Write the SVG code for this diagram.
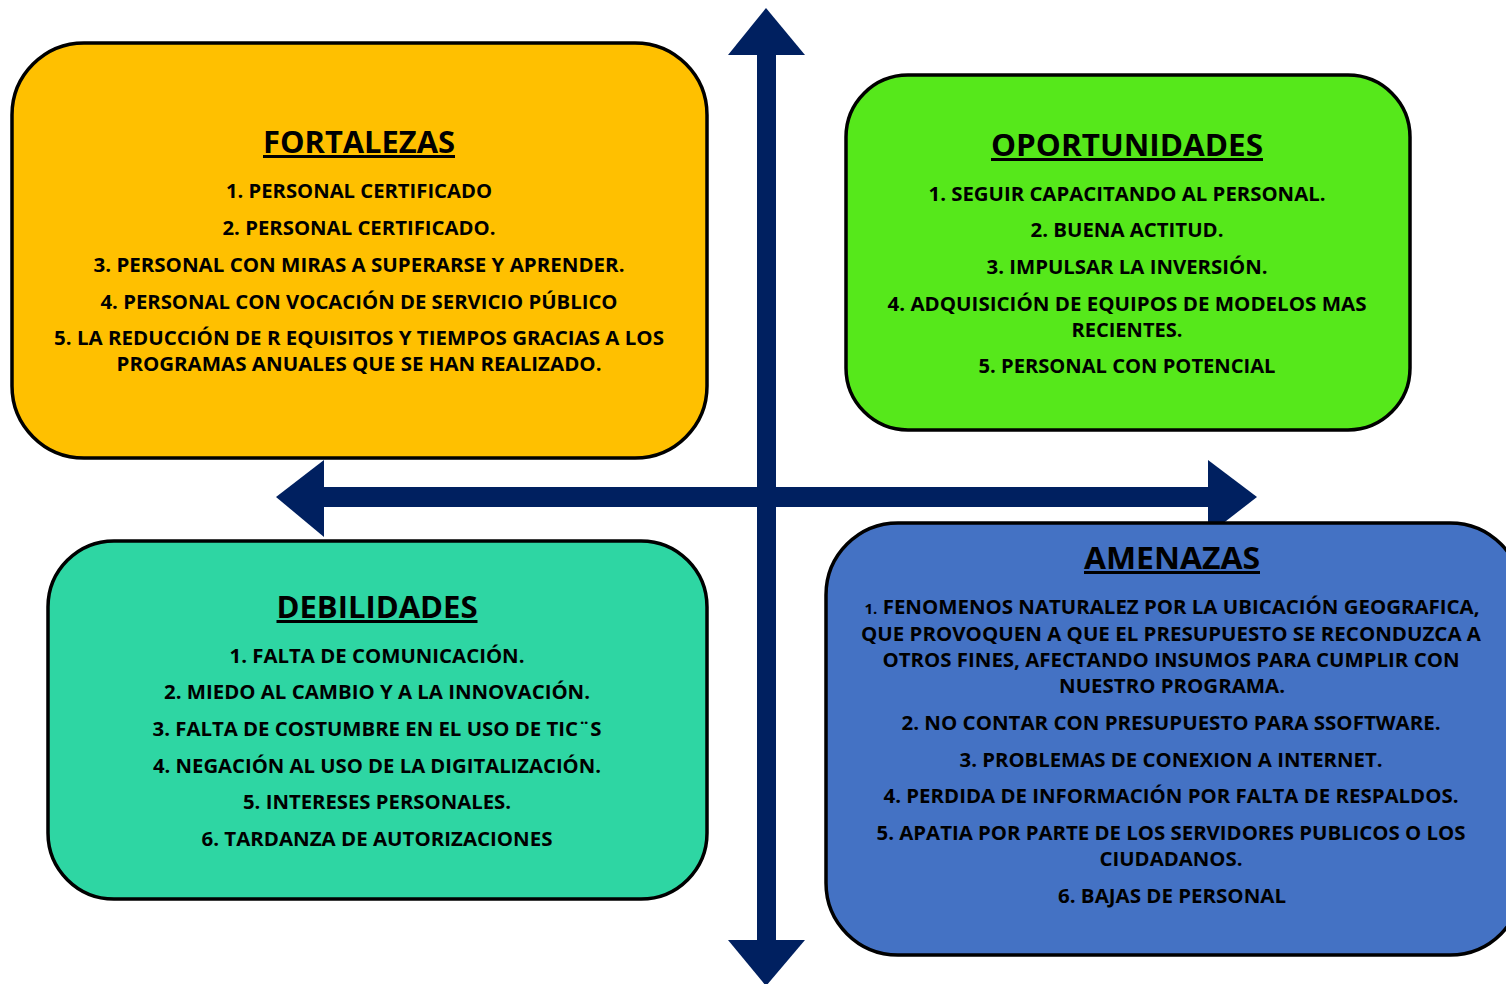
<svg xmlns="http://www.w3.org/2000/svg" width="1506" height="984" viewBox="0 0 1506 984">
<style>
.box{stroke:#000;stroke-width:3.5}
.t{font-family:"Open Sans","Liberation Sans",sans-serif;font-weight:bold;font-size:19px;fill:#000;text-anchor:middle}
.h{font-family:"Open Sans","Liberation Sans",sans-serif;font-weight:bold;font-size:30px;fill:#000;text-anchor:middle;text-decoration:underline}
.ar{fill:#002060}
</style>
<rect width="1506" height="984" fill="#fff"/>
<g id="connectors">
<rect class="ar" x="757" y="50" width="19" height="895"/>
<polygon class="ar" points="766,8 805,55 728,55"/>
<polygon class="ar" points="766,986 805,940 728,940"/>
<rect class="ar" x="318" y="487" width="895" height="20"/>
<polygon class="ar" points="276,497 324,460 324,537"/>
<polygon class="ar" points="1257,497 1208,460 1208,535"/>
</g>
<g id="fortalezas">
<rect class="box" x="12" y="43" width="695" height="415" rx="72" fill="#FFC000"/>
<text class="h" x="359" y="153" textLength="192" lengthAdjust="spacingAndGlyphs">FORTALEZAS</text>
<text class="t" x="359" y="198" textLength="266" lengthAdjust="spacingAndGlyphs">1. PERSONAL CERTIFICADO</text>
<text class="t" x="359" y="235" textLength="273" lengthAdjust="spacingAndGlyphs">2. PERSONAL CERTIFICADO.</text>
<text class="t" x="359" y="272" textLength="531" lengthAdjust="spacingAndGlyphs">3. PERSONAL CON MIRAS A SUPERARSE Y APRENDER.</text>
<text class="t" x="359" y="309" textLength="517" lengthAdjust="spacingAndGlyphs">4. PERSONAL CON VOCACIÓN DE SERVICIO PÚBLICO</text>
<text class="t" x="359" y="345" textLength="610" lengthAdjust="spacingAndGlyphs">5. LA REDUCCIÓN DE R EQUISITOS Y TIEMPOS GRACIAS A LOS</text>
<text class="t" x="359" y="371" textLength="485" lengthAdjust="spacingAndGlyphs">PROGRAMAS ANUALES QUE SE HAN REALIZADO.</text>
</g>
<g id="oportunidades">
<rect class="box" x="846" y="75" width="564" height="355" rx="62" fill="#56E81B"/>
<text class="h" x="1127" y="156" textLength="272" lengthAdjust="spacingAndGlyphs">OPORTUNIDADES</text>
<text class="t" x="1127" y="201" textLength="397" lengthAdjust="spacingAndGlyphs">1. SEGUIR CAPACITANDO AL PERSONAL.</text>
<text class="t" x="1127" y="237" textLength="193" lengthAdjust="spacingAndGlyphs">2. BUENA ACTITUD.</text>
<text class="t" x="1127" y="274" textLength="281" lengthAdjust="spacingAndGlyphs">3. IMPULSAR LA INVERSIÓN.</text>
<text class="t" x="1127" y="311" textLength="479" lengthAdjust="spacingAndGlyphs">4. ADQUISICIÓN DE EQUIPOS DE MODELOS MAS</text>
<text class="t" x="1127" y="337" textLength="111" lengthAdjust="spacingAndGlyphs">RECIENTES.</text>
<text class="t" x="1127" y="373" textLength="297" lengthAdjust="spacingAndGlyphs">5. PERSONAL CON POTENCIAL</text>
</g>
<g id="debilidades">
<rect class="box" x="48" y="541" width="659" height="358" rx="66" fill="#2ED6A3"/>
<text class="h" x="377" y="618" textLength="201" lengthAdjust="spacingAndGlyphs">DEBILIDADES</text>
<text class="t" x="377" y="663" textLength="295" lengthAdjust="spacingAndGlyphs">1. FALTA DE COMUNICACIÓN.</text>
<text class="t" x="377" y="699" textLength="426" lengthAdjust="spacingAndGlyphs">2. MIEDO AL CAMBIO Y A LA INNOVACIÓN.</text>
<text class="t" x="377" y="736" textLength="449" lengthAdjust="spacingAndGlyphs">3. FALTA DE COSTUMBRE EN EL USO DE TIC¨S</text>
<text class="t" x="377" y="773" textLength="448" lengthAdjust="spacingAndGlyphs">4. NEGACIÓN AL USO DE LA DIGITALIZACIÓN.</text>
<text class="t" x="377" y="809" textLength="268" lengthAdjust="spacingAndGlyphs">5. INTERESES PERSONALES.</text>
<text class="t" x="377" y="846" textLength="351" lengthAdjust="spacingAndGlyphs">6. TARDANZA DE AUTORIZACIONES</text>
</g>
<g id="amenazas">
<rect class="box" x="826" y="523" width="696" height="432" rx="72" fill="#4472C4"/>
<text class="h" x="1172" y="569" textLength="176" lengthAdjust="spacingAndGlyphs">AMENAZAS</text>
<text class="t" x="1172" y="614" textLength="615" lengthAdjust="spacingAndGlyphs"><tspan font-size="14">1.</tspan> FENOMENOS NATURALEZ POR LA UBICACIÓN GEOGRAFICA,</text>
<text class="t" x="1171" y="641" textLength="620" lengthAdjust="spacingAndGlyphs">QUE PROVOQUEN A QUE EL PRESUPUESTO SE RECONDUZCA A</text>
<text class="t" x="1171" y="667" textLength="577" lengthAdjust="spacingAndGlyphs">OTROS FINES, AFECTANDO INSUMOS PARA CUMPLIR CON</text>
<text class="t" x="1172" y="693" textLength="226" lengthAdjust="spacingAndGlyphs">NUESTRO PROGRAMA.</text>
<text class="t" x="1171" y="730" textLength="539" lengthAdjust="spacingAndGlyphs">2. NO CONTAR CON PRESUPUESTO PARA SSOFTWARE.</text>
<text class="t" x="1171" y="767" textLength="423" lengthAdjust="spacingAndGlyphs">3. PROBLEMAS DE CONEXION A INTERNET.</text>
<text class="t" x="1171" y="803" textLength="575" lengthAdjust="spacingAndGlyphs">4. PERDIDA DE INFORMACIÓN POR FALTA DE RESPALDOS.</text>
<text class="t" x="1171" y="840" textLength="589" lengthAdjust="spacingAndGlyphs">5. APATIA POR PARTE DE LOS SERVIDORES PUBLICOS O LOS</text>
<text class="t" x="1171" y="866" textLength="143" lengthAdjust="spacingAndGlyphs">CIUDADANOS.</text>
<text class="t" x="1172" y="903" textLength="228" lengthAdjust="spacingAndGlyphs">6. BAJAS DE PERSONAL</text>
</g>
</svg>
